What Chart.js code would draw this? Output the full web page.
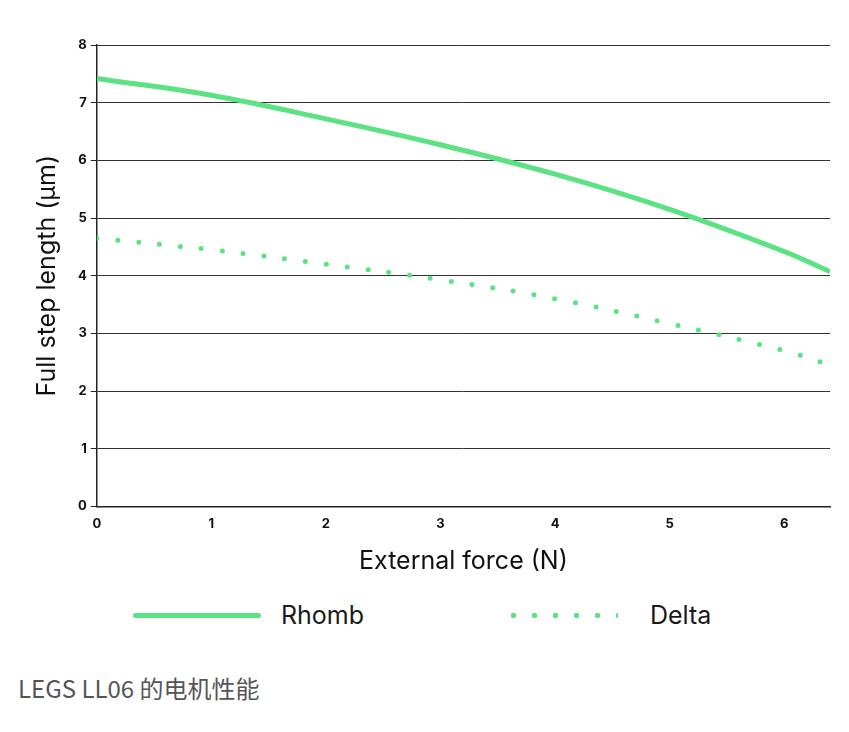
<!DOCTYPE html>
<html><head><meta charset="utf-8">
<script src="https://cdn.jsdelivr.net/npm/chart.js@4"></script>
<style>
body{margin:0;background:#fff;font-family:Inter,sans-serif;width:849px;height:732px;overflow:hidden}
#wrap{position:absolute;left:0;top:20px;width:849px;height:570px}
.leg{position:absolute;top:600px;font-size:25px;color:#1a1a1a;display:flex;align-items:center}
.caption{position:absolute;left:18px;top:670px;font-size:24px;color:#555;font-family:"Noto Sans CJK SC","Noto Sans",sans-serif}
</style></head><body>
<div id="wrap"><canvas id="c"></canvas></div>
<div class="leg" style="left:133px"><span style="display:inline-block;width:128px;height:5px;background:#5ae283;border-radius:3px;margin-right:20px"></span>Rhomb</div>
<div class="leg" style="left:503px"><span style="display:inline-block;width:115px;height:5px;margin-right:32px;background:radial-gradient(circle,#5ae283 2.5px,transparent 3px) 0 0/21px 5px repeat-x"></span>Delta</div>
<div class="caption">LEGS LL06 的电机性能</div>
<script>
const forceX = [0, 1, 2, 3, 4, 5, 6, 6.4];
const rhomb  = [7.42, 7.13, 6.72, 6.27, 5.76, 5.15, 4.42, 4.07];
const delta  = [4.65, 4.45, 4.2, 3.93, 3.6, 3.17, 2.7, 2.45];
const yTicks = [0, 1, 2, 3, 4, 5, 6, 7, 8];
const green = '#5ae283';

new Chart(document.getElementById('c'), {
  type: 'line',
  data: {
    datasets: [
      { label: 'Rhomb', data: forceX.map((x, i) => ({ x, y: rhomb[i] })),
        borderColor: green, borderWidth: 5, pointRadius: 0, tension: .4 },
      { label: 'Delta', data: forceX.map((x, i) => ({ x, y: delta[i] })),
        borderColor: green, borderWidth: 5, pointRadius: 0, tension: .4,
        borderDash: [0, 21], borderCapStyle: 'round' }
    ]
  },
  options: {
    responsive: true, maintainAspectRatio: false, animation: false,
    layout: { padding: { left: 28, right: 19, top: 25, bottom: 10 } },
    plugins: { legend: { display: false }, tooltip: { enabled: false } },
    scales: {
      x: { type: 'linear', min: 0, max: 6.4,
        afterBuildTicks: a => { a.ticks = [0,1,2,3,4,5,6].map(v => ({ value: v })); },
        grid: { display: false, drawTicks: true, tickLength: 6, tickColor: '#222' },
        border: { color: '#222', width: 1.5 },
        ticks: { color: '#111', font: { family: 'Inter', size: 13, weight: 'bold' }, padding: 4 },
        title: { display: true, text: 'External force (N)', color: '#111', font: { family: 'Inter', size: 25 }, padding: { top: 10 } } },
      y: { min: 0, max: 8,
        afterBuildTicks: a => { a.ticks = yTicks.map(v => ({ value: v })); },
        grid: { color: '#333', lineWidth: 1, tickLength: 6, tickColor: '#222' },
        border: { color: '#222', width: 1.5 },
        ticks: { color: '#111', font: { family: 'Inter', size: 13, weight: 'bold' }, padding: 4 },
        title: { display: true, text: 'Full step length (µm)', color: '#111', font: { family: 'Inter', size: 25 }, padding: { bottom: 12 } } }
    }
  }
});
</script></body></html>
